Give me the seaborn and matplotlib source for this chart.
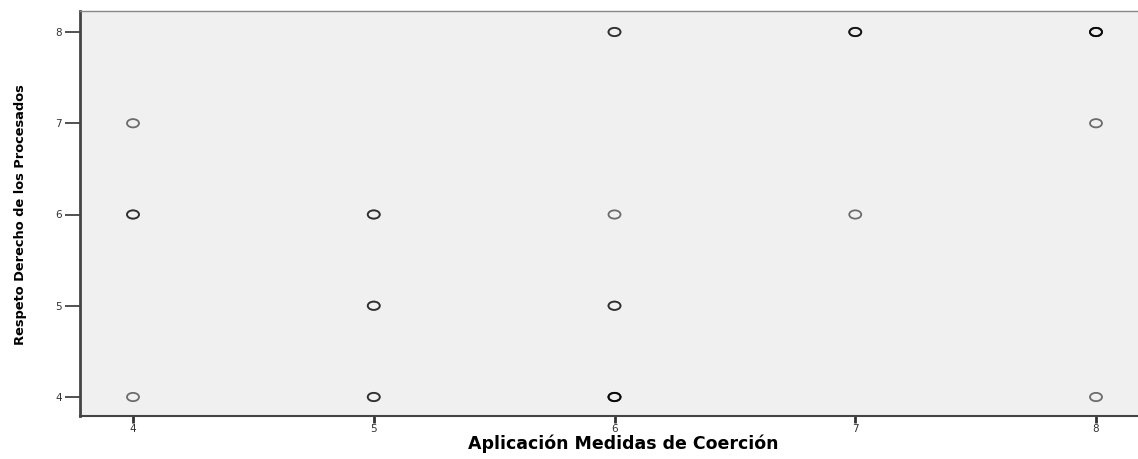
import numpy as np
import pandas as pd
import matplotlib
matplotlib.use("Agg")
import matplotlib.pyplot as plt
import seaborn as sns
from matplotlib.path import Path

# one entry per case; repeated pairs overlap and draw darker
coercion = [4, 4, 4, 4,
            5, 5, 5, 5, 5, 5,
            6, 6, 6, 6, 6, 6, 6, 6, 6,
            7, 7, 7, 7,
            8, 8, 8, 8, 8, 8]
respeto = [7, 6, 6, 4,
           6, 6, 5, 5, 4, 4,
           8, 8, 6, 5, 5, 4, 4, 4, 4,
           8, 8, 8, 6,
           8, 8, 8, 8, 7, 4]

df = pd.DataFrame({"Aplicación Medidas de Coerción": coercion,
                   "Respeto Derecho de los Procesados": respeto})

sns.set_style("white")

fig = plt.figure(figsize=(11.38, 4.59), dpi=100)
W, H = 1138, 459
ax = fig.add_axes([80 / W, 43 / H, (1150 - 80) / W, (416 - 11) / H])
ax.set_facecolor("#f0f0f0")

# slightly wide ellipse marker like the source
circ = Path.unit_circle()
ell = Path(circ.vertices * np.array([1.45, 1.0]), circ.codes)

sns.scatterplot(data=df, x="Aplicación Medidas de Coerción",
                y="Respeto Derecho de los Procesados", ax=ax,
                marker=ell, s=75, facecolor="none", edgecolor="black",
                linewidth=1.3, alpha=0.55)

ax.set_xlim(4 - 53 / 240.75, 8 + 54 / 240.75)
ax.set_ylim(4 - 19 / 91.25, 8 + 21 / 91.25)
ax.set_xticks([4, 5, 6, 7, 8])
ax.set_yticks([4, 5, 6, 7, 8])

ax.spines["right"].set_visible(False)
ax.spines["left"].set_color("#444444")
ax.spines["left"].set_linewidth(2)
ax.spines["bottom"].set_color("#444444")
ax.spines["bottom"].set_linewidth(1.5)
ax.spines["top"].set_color("#888888")
ax.spines["top"].set_linewidth(1)

ax.tick_params(axis="y", direction="out", length=11, width=1.2, color="#333333",
               labelsize=7.5, labelcolor="#333333", pad=2, left=True)
ax.tick_params(axis="x", direction="out", length=5, width=2, color="#333333",
               labelsize=7.5, labelcolor="#333333", pad=1, bottom=True)

ax.set_xlabel("Aplicación Medidas de Coerción", fontsize=12.5, fontweight="bold",
              family=["DejaVu Sans"], va="center", color="black")
ax.set_ylabel("Respeto Derecho de los Procesados", fontsize=9.4,
              fontweight="bold", family=["DejaVu Sans"], va="center",
              color="black")
# place labels in pixel positions of the source
ax.xaxis.set_label_coords((623 - 80) / (1150 - 80), -(444 - 416) / (416 - 11))
ax.yaxis.set_label_coords(-(80 - 21) / (1150 - 80), (416 - 215) / (416 - 11))

fig.savefig("out.png", dpi=100)
